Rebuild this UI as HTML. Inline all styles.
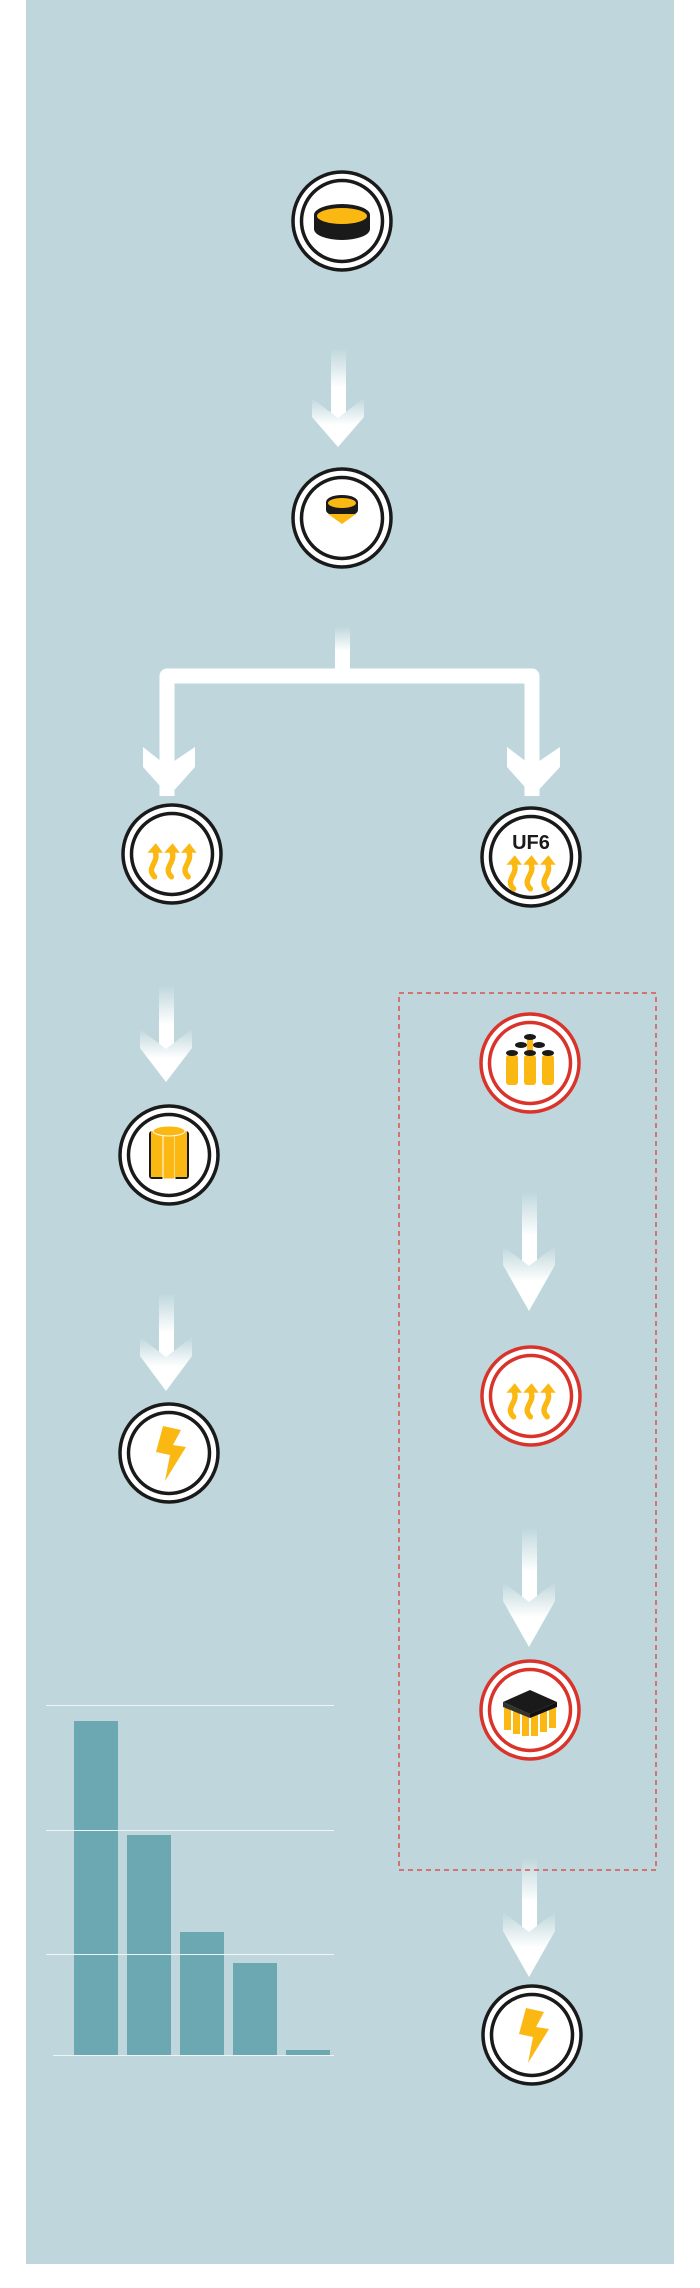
<!DOCTYPE html>
<html><head><meta charset="utf-8"><style>
html,body{margin:0;padding:0;background:#fff;}
svg{display:block;}
</style></head><body>
<svg width="700" height="2288" viewBox="0 0 700 2288" xmlns="http://www.w3.org/2000/svg">
<defs>
<linearGradient id="ag" x1="0" y1="0" x2="0" y2="1">
<stop offset="0" stop-color="#bfd7dc"/><stop offset="0.55" stop-color="#ffffff"/><stop offset="1" stop-color="#ffffff"/>
</linearGradient>
<g id="ring"><circle r="49" fill="#fff" stroke="#1a1a1a" stroke-width="3.5"/><circle r="40.5" fill="none" stroke="#1a1a1a" stroke-width="3.5"/></g>
<g id="rring"><circle r="49" fill="#fff" stroke="#d9342b" stroke-width="3.5"/><circle r="40.5" fill="none" stroke="#d9342b" stroke-width="3.5"/></g>
<g id="heat0" fill="none" stroke="#fbb813" stroke-width="4.5" stroke-linecap="round">
<path d="M-17,14 C-25,6 -12,2 -17,-8"/><path d="M-3,14 C-11,6 2,2 -3,-8"/><path d="M11,14 C3,6 16,2 11,-8"/>
<path d="M-23,-6 L-16,-14 L-10,-6Z" fill="#fbb813" stroke="none"/>
<path d="M-9,-6 L-2,-14 L4,-6Z" fill="#fbb813" stroke="none"/>
<path d="M5,-6 L12,-14 L18,-6Z" fill="#fbb813" stroke="none"/>
</g>
<g id="heat"><use href="#heat0" transform="translate(3,0) scale(1.2)"/></g>
<g id="bolt"><path d="M-6,-27 L12,-23 L4,-8 L17,-6 L-4,28 L1,2 L-13,-1 Z" fill="#fbb813"/></g>
</defs>
<rect x="26" y="0" width="648" height="2264" fill="#bfd7dc"/>

<g fill="url(#ag)">
<g transform="translate(338,349)"><rect x="-7" y="0" width="15" height="70"/><polygon points="-26,49 0,69 26,49 26,68 0,98 -26,68"/></g>
<g transform="translate(166,986)"><rect x="-7" y="0" width="15" height="70"/><polygon points="-26,43 0,63 26,43 26,62 0,96 -26,62"/></g>
<g transform="translate(166,1294)"><rect x="-7" y="0" width="15" height="70"/><polygon points="-26,43 0,63 26,43 26,62 0,97 -26,62"/></g>
<g transform="translate(529,1192)"><rect x="-7" y="0" width="15" height="80"/><polygon points="-26,54 0,74 26,54 26,73 0,119 -26,73"/></g>
<g transform="translate(529,1528)"><rect x="-7" y="0" width="15" height="80"/><polygon points="-26,54 0,74 26,54 26,73 0,119 -26,73"/></g>
<g transform="translate(529,1858)"><rect x="-7" y="0" width="15" height="80"/><polygon points="-26,54 0,74 26,54 26,73 0,119 -26,73"/></g>
</g>
<rect x="335" y="627" width="15" height="44" fill="url(#ag)"/>
<path d="M167,796 L167,676 L532,676 L532,796" fill="none" stroke="#fff" stroke-width="15" stroke-linejoin="round"/>
<polygon points="143,747 167,766 195,747 195,767 169,796 143,767" fill="#fff"/>
<polygon points="507,747 532,766 560,747 560,767 533,796 507,767" fill="#fff"/>

<g transform="translate(342,221)"><use href="#ring"/>
<ellipse cx="0" cy="8" rx="28" ry="11" fill="#1a1a1a"/><rect x="-28" y="-6" width="56" height="14" fill="#1a1a1a"/><ellipse cx="0" cy="-6" rx="28" ry="11" fill="#1a1a1a"/><ellipse cx="0" cy="-5" rx="25" ry="8" fill="#fbb813"/></g>
<g transform="translate(342,518)"><use href="#ring"/>
<ellipse cx="0" cy="-8" rx="16" ry="7" fill="#1a1a1a"/><rect x="-16" y="-16" width="32" height="8" fill="#1a1a1a"/><ellipse cx="0" cy="-16" rx="16" ry="7" fill="#1a1a1a"/><ellipse cx="0" cy="-15" rx="14" ry="5" fill="#fbb813"/>
<polygon points="-14,-4 14,-4 0,6" fill="#fbb813"/></g>
<g transform="translate(172,854)"><use href="#ring"/><use href="#heat" transform="translate(0,6)"/></g>
<g transform="translate(531,857)"><use href="#ring"/>
<text x="0" y="-8" text-anchor="middle" font-family="Liberation Sans, sans-serif" font-weight="bold" font-size="20" fill="#1a1a1a">UF6</text>
<use href="#heat" transform="translate(0,15)"/></g>
<g transform="translate(169,1155)"><use href="#ring"/>
<rect x="-20" y="-24" width="40" height="48" rx="3" fill="#1a1a1a"/>
<rect x="-18" y="-24" width="12" height="46" fill="#fbb813"/><rect x="-6" y="-22" width="12" height="46" fill="#fbb813" stroke="#fff" stroke-width="1"/><rect x="6" y="-24" width="12" height="46" fill="#fbb813"/>
<ellipse cx="0" cy="-24" rx="16" ry="5" fill="#fbb813" stroke="#fff" stroke-width="1"/></g>
<g transform="translate(169,1453)"><use href="#ring"/><use href="#bolt"/></g>

<rect x="399" y="993" width="257" height="877" fill="none" stroke="#d9534f" stroke-width="1.5" stroke-dasharray="5,4"/>
<g transform="translate(530,1063)"><use href="#rring"/>
<g fill="#fbb813"><rect x="-24" y="-8" width="12" height="30" rx="3"/><rect x="-6" y="-8" width="12" height="30" rx="3"/><rect x="12" y="-8" width="12" height="30" rx="3"/><rect x="-3" y="-26" width="6" height="18"/></g>
<g fill="#1a1a1a"><ellipse cx="-18" cy="-10" rx="6" ry="3"/><ellipse cx="0" cy="-10" rx="6" ry="3"/><ellipse cx="18" cy="-10" rx="6" ry="3"/><ellipse cx="-9" cy="-18" rx="6" ry="3"/><ellipse cx="9" cy="-18" rx="6" ry="3"/><ellipse cx="0" cy="-26" rx="6" ry="3"/></g></g>
<g transform="translate(531,1396)"><use href="#rring"/><use href="#heat" transform="translate(0,4)"/></g>
<g transform="translate(530,1710)"><use href="#rring"/>
<g fill="#fbb813"><rect x="-26" y="-2" width="7" height="22"/><rect x="-17" y="-2" width="7" height="26"/><rect x="-8" y="-2" width="7" height="28"/><rect x="1" y="-2" width="7" height="28"/><rect x="10" y="-2" width="7" height="24"/><rect x="19" y="-2" width="7" height="20"/></g>
<polygon points="-27,-8 0,-20 27,-8 0,4" fill="#1a1a1a"/><polygon points="-27,-8 0,4 0,8 -27,-3" fill="#333"/><polygon points="27,-8 0,4 0,8 27,-3" fill="#111"/></g>
<g transform="translate(532,2035)"><use href="#ring"/><use href="#bolt"/></g>

<g fill="#6ba8b1">
<rect x="74" y="1721" width="44" height="334"/><rect x="127" y="1835" width="44" height="220"/><rect x="180" y="1932" width="44" height="123"/><rect x="233" y="1963" width="44" height="92"/><rect x="286" y="2050" width="44" height="5"/>
</g>
<g stroke="#eef5f6" stroke-width="1">
<line x1="46" y1="1705.5" x2="334" y2="1705.5"/><line x1="46" y1="1830.5" x2="334" y2="1830.5"/><line x1="46" y1="1954.5" x2="334" y2="1954.5"/><line x1="53" y1="2055.5" x2="334" y2="2055.5"/>
</g>
</svg>
</body></html>
